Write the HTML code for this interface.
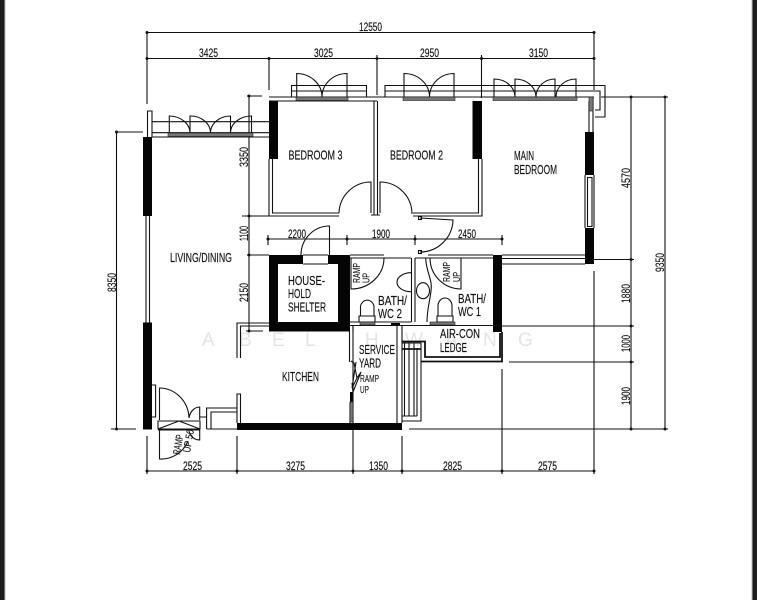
<!DOCTYPE html>
<html><head><meta charset="utf-8"><style>
html,body{margin:0;padding:0;background:#fff}
svg{display:block;filter:blur(.3px)}
text{font-family:"Liberation Sans",sans-serif;fill:#111}
.d{font-size:11.500px;stroke:#111;stroke-width:.15px}.l{font-size:13px;stroke:#111;stroke-width:.15px}.r{font-size:10.500px;stroke:#111;stroke-width:.1px}
.w{font-size:19px;fill:#e4e4e4}
</style></head><body>
<svg width="757" height="600" viewBox="0 0 757 600" xmlns="http://www.w3.org/2000/svg">
<rect width="757" height="600" fill="#fff"/>
<rect x="0" y="0" width="4.500" height="600" fill="#1c1c1c"/>
<rect x="4.500" y="0" width="1" height="600" fill="#bbb"/>
<rect x="752.500" y="0" width="4.500" height="600" fill="#1c1c1c"/>
<rect x="751.500" y="0" width="1" height="600" fill="#bbb"/>

<!-- watermark -->
<g class="w">
<text class="w" x="202" y="346">A</text><text class="w" x="239" y="346">B</text><text class="w" x="272" y="346">E</text><text class="w" x="305" y="346">L</text><text class="w" x="365" y="346">H</text><text class="w" x="405" y="346">W</text><text class="w" x="445" y="346">A</text><text class="w" x="483" y="346">N</text><text class="w" x="518" y="346">G</text>
</g>

<!-- dimension lines -->
<g stroke="#111" stroke-width="1.100" fill="none">
<path d="M147 32.500H594M147 58.500H594M147 32V104M269 58V90M377 55V95M481.500 55V98M594 32V90"/>
<path d="M147 471H594M147 436V474M237 436V474M353 430V474M402 436V474M502 369V474M594 271V474"/>
<path d="M116.500 132V429M116 132H143M111 429H136"/>
<path d="M249 96V331M247 96H262M242 216H269M247 255H269M246 331H263"/>
<path d="M631 97V429M665 97V429M601 97H668M594 259.500H634M502 326H634M509 362H634M409 429H668"/>
<path d="M268 239H502M268 235V245M347 235V245M415 235V245M502 235V245"/>
</g>
<g fill="#111">
<circle cx="147" cy="32.500" r="1.500"/><circle cx="594" cy="32.500" r="1.500"/>
<circle cx="147" cy="58.500" r="1.500"/><circle cx="269" cy="58.500" r="1.500"/><circle cx="377" cy="58.500" r="1.500"/><circle cx="481.500" cy="58.500" r="1.500"/><circle cx="594" cy="58.500" r="1.500"/>
<circle cx="147" cy="471" r="1.500"/><circle cx="237" cy="471" r="1.500"/><circle cx="353" cy="471" r="1.500"/><circle cx="402" cy="471" r="1.500"/><circle cx="502" cy="471" r="1.500"/><circle cx="594" cy="471" r="1.500"/>
<circle cx="116.500" cy="132" r="1.500"/><circle cx="116.500" cy="429" r="1.500"/>
<circle cx="249" cy="96" r="1.500"/><circle cx="249" cy="216" r="1.500"/><circle cx="249" cy="255" r="1.500"/><circle cx="249" cy="331" r="1.500"/>
<circle cx="631" cy="97" r="1.500"/><circle cx="631" cy="259.500" r="1.500"/><circle cx="631" cy="326" r="1.500"/><circle cx="631" cy="362" r="1.500"/><circle cx="631" cy="429" r="1.500"/>
<circle cx="665" cy="97" r="1.500"/><circle cx="665" cy="429" r="1.500"/>
<circle cx="268" cy="239" r="1.500"/><circle cx="347" cy="239" r="1.500"/><circle cx="415" cy="239" r="1.500"/><circle cx="502" cy="239" r="1.500"/>
</g>

<!-- black walls -->
<g fill="#050505">
<rect x="143" y="137" width="9" height="79"/>
<rect x="143" y="322.500" width="9" height="107"/>
<rect x="269" y="101" width="9" height="58"/>
<rect x="472.500" y="101" width="9.500" height="58"/>
<rect x="585" y="132" width="9" height="43"/>
<rect x="585" y="228" width="9" height="36"/>
<rect x="493" y="255" width="9" height="77"/>
<rect x="237" y="423" width="165" height="7"/>
<rect x="391" y="323" width="9" height="3"/>
<path fill-rule="evenodd" d="M269 255H303V264H328V255H350V331.500H269ZM278 264V322H338V264Z"/>
<rect x="350" y="392" width="3.500" height="10"/>
</g>

<!-- walls and thin lines -->
<g stroke="#111" stroke-width="1.100" fill="none">
<!-- living -->
<path d="M147.500 137V111H152V137M152 121.700H269M152 132.700H269M152 137H269"/>
<path d="M146 216V322.500M149.500 216V322.500"/>
<!-- bedroom tops -->
<path d="M269 97H594M269 101H377M269 159V216H339M272.500 159V213H339"/>
<path d="M374 101V215M377.500 101V215M371 215H380"/>
<path d="M413 213H478.500V159M413 216H482V159"/>
<path d="M291.500 97V85.500H366.500V97M291.500 91H366.500"/>
<path d="M385 97V85.500H605V117H595M385 91H600V110H595"/>
<path d="M589 101V132M593 97V132"/>
<rect x="587.500" y="177.500" width="4.500" height="49"/>
<path d="M585 175V228M594 175V228"/>
<!-- doors bedrooms -->
<path d="M339 213A32 32 0 0 1 371 182V213M380 213V182A32 32 0 0 1 412 214"/>
<path d="M420 218L453 220A33 33 0 0 1 420 252"/>
<rect x="418.500" y="216.500" width="3" height="3"/><rect x="418.500" y="250.500" width="3" height="3"/>
<!-- shelter door -->
<path d="M301 255A28.500 29 0 0 1 329.500 226V255M303 255H328M303 264H328"/>
<!-- top window leaves -->
<path d="M296.700 97V73.500A25.500 23.500 0 0 1 322 97A25 23.500 0 0 1 347 73.500V97"/>
<path d="M404 97V73.500A25.500 23.500 0 0 1 429.500 97A24.500 23.500 0 0 1 454 73.500V97"/>
<path d="M494 97V79A21 18 0 0 1 515 97V79A21 18 0 0 1 536 97A19 18 0 0 1 555 79V97M556 97A20 18 0 0 1 576 79V97"/>
<path d="M169.300 133V116A21 17 0 0 1 190 133V116A20 17 0 0 1 210.500 133A20 17 0 0 1 230.500 116V133A21 17 0 0 1 251.500 116V133"/>
<!-- main to bath wall -->
<path d="M502 255H585M502 258.500H585M502 264H585"/>
<!-- bath -->
<path d="M350 258H411M350 255H384M415 258H493M428 255H493M350 322H411M350 325.500H502"/>
<path d="M411.500 258V322M415 258V322"/>
<path d="M384 258A33 31 0 0 1 351 289V258M430 258A31 31 0 0 0 461 289V258"/>
<path d="M411 272.700A14 9.500 0 0 0 411 291.700"/>
<ellipse cx="423" cy="290.700" rx="6.500" ry="8"/>
<path d="M425.700 258C426 272 433 280 431 291C429.500 303 427 310 427 322"/>
<path d="M360.500 316V306A7 8 0 0 1 374 306V316M359 316H375V322H359Z"/>
<path d="M438 316V306A7 8 0 0 1 452 306V316M437 316H453V322H437Z"/>
<!-- kitchen -->
<path d="M237 358V323H269M240.500 358V326H269M237 423V394H240.500V423"/>
<path d="M349.500 331.500V362M353 331.500V325.500"/>
<path d="M350 402V423M353 402V423M353 325V423M397 325.500V423M402 325.500V423"/>
<path d="M351 361L354 363L357 378L352 388L356 362M357 378L361 372L353 392L352 383"/>
<!-- rack -->
<path d="M402 343H421V421H402M404.500 343V416M409 343V416M414 343V416M417 348V416M402 416H417"/>
<path d="M421 349H402M421 361.500H502V332M402 341.500H425V357H500V333" stroke-width="1.800"/>
<!-- entrance -->
<path d="M152 385H155.600V417H152M159.500 420V388A30 31 0 0 1 189 418A11 13 0 0 1 199.700 407V420"/>
<path d="M158 421H200V429H158ZM158 430H200M179 421L158 429M179 421L200 429"/>
<path d="M159.500 430V459A29 29 0 0 0 188 441M199.700 429V440A11 11 0 0 1 189 431"/>
<path d="M200 417H206.600V429M206.600 429V408H237M211 429V412H237M206.600 429H237"/>
</g>
<!-- grey window bands -->
<g fill="#777" stroke="#222" stroke-width=".6">
<rect x="168" y="133" width="85" height="3.500"/>
<rect x="296" y="97" width="52" height="3.500"/>
<rect x="403" y="97" width="52" height="3.500"/>
<rect x="493" y="97" width="84" height="3.500"/>
<rect x="589" y="97" width="4" height="14"/>
<rect x="360" y="322" width="15" height="3"/>
<rect x="430" y="322" width="25" height="3"/>
<rect x="350" y="402" width="3" height="20"/>
</g>

<!-- dimension text -->
<g class="d">
<text class="d" x="359" y="31" textLength="23" lengthAdjust="spacingAndGlyphs">12550</text>
<text class="d" x="199" y="57" textLength="19" lengthAdjust="spacingAndGlyphs">3425</text>
<text class="d" x="314" y="57" textLength="19" lengthAdjust="spacingAndGlyphs">3025</text>
<text class="d" x="420" y="57" textLength="19" lengthAdjust="spacingAndGlyphs">2950</text>
<text class="d" x="529" y="57" textLength="19" lengthAdjust="spacingAndGlyphs">3150</text>
<text class="d" x="288" y="238" textLength="18" lengthAdjust="spacingAndGlyphs">2200</text>
<text class="d" x="372" y="238" textLength="18" lengthAdjust="spacingAndGlyphs">1900</text>
<text class="d" x="458" y="238" textLength="18" lengthAdjust="spacingAndGlyphs">2450</text>
<text class="d" x="183" y="470" textLength="19" lengthAdjust="spacingAndGlyphs">2525</text>
<text class="d" x="286" y="470" textLength="19" lengthAdjust="spacingAndGlyphs">3275</text>
<text class="d" x="369" y="470" textLength="19" lengthAdjust="spacingAndGlyphs">1350</text>
<text class="d" x="443" y="470" textLength="19" lengthAdjust="spacingAndGlyphs">2825</text>
<text class="d" x="538" y="470" textLength="19" lengthAdjust="spacingAndGlyphs">2575</text>
<text class="d" transform="translate(248,167) rotate(-90)" textLength="20" lengthAdjust="spacingAndGlyphs">3350</text>
<text class="d" transform="translate(248,241) rotate(-90)" textLength="15" lengthAdjust="spacingAndGlyphs">1100</text>
<text class="d" transform="translate(248,302) rotate(-90)" textLength="19" lengthAdjust="spacingAndGlyphs">2150</text>
<text class="d" transform="translate(630,188) rotate(-90)" textLength="20" lengthAdjust="spacingAndGlyphs">4570</text>
<text class="d" transform="translate(664,272) rotate(-90)" textLength="19" lengthAdjust="spacingAndGlyphs">9350</text>
<text class="d" transform="translate(630,303) rotate(-90)" textLength="19" lengthAdjust="spacingAndGlyphs">1880</text>
<text class="d" transform="translate(630,352) rotate(-90)" textLength="17" lengthAdjust="spacingAndGlyphs">1000</text>
<text class="d" transform="translate(630,405) rotate(-90)" textLength="18" lengthAdjust="spacingAndGlyphs">1900</text>
<text class="d" transform="translate(116,292) rotate(-90)" textLength="19" lengthAdjust="spacingAndGlyphs">8350</text>
</g>

<!-- room labels -->
<g class="l">
<text class="l" x="288.500" y="159.500" textLength="54" lengthAdjust="spacingAndGlyphs">BEDROOM 3</text>
<text class="l" x="390" y="159.500" textLength="53" lengthAdjust="spacingAndGlyphs">BEDROOM 2</text>
<text class="l" x="514" y="160" textLength="20" lengthAdjust="spacingAndGlyphs">MAIN</text>
<text class="l" x="514" y="174" textLength="43" lengthAdjust="spacingAndGlyphs">BEDROOM</text>
<text class="l" x="170" y="262" textLength="62" lengthAdjust="spacingAndGlyphs">LIVING/DINING</text>
<text class="l" x="288" y="285" textLength="37" lengthAdjust="spacingAndGlyphs">HOUSE-</text>
<text class="l" x="288" y="298" textLength="23" lengthAdjust="spacingAndGlyphs">HOLD</text>
<text class="l" x="288" y="311.500" textLength="38" lengthAdjust="spacingAndGlyphs">SHELTER</text>
<text class="l" x="378" y="305" textLength="29" lengthAdjust="spacingAndGlyphs">BATH/</text>
<text class="l" x="378" y="318" textLength="24" lengthAdjust="spacingAndGlyphs">WC 2</text>
<text class="l" x="458" y="303" textLength="28" lengthAdjust="spacingAndGlyphs">BATH/</text>
<text class="l" x="458" y="316" textLength="23" lengthAdjust="spacingAndGlyphs">WC 1</text>
<text class="l" x="440" y="338" textLength="40" lengthAdjust="spacingAndGlyphs">AIR-CON</text>
<text class="l" x="440" y="352" textLength="27" lengthAdjust="spacingAndGlyphs">LEDGE</text>
<text class="l" x="359" y="354" textLength="36" lengthAdjust="spacingAndGlyphs">SERVICE</text>
<text class="l" x="359" y="367.500" textLength="22" lengthAdjust="spacingAndGlyphs">YARD</text>
<text class="l" x="282" y="381" textLength="37" lengthAdjust="spacingAndGlyphs">KITCHEN</text>
<text class="r" x="360" y="382" textLength="19" lengthAdjust="spacingAndGlyphs">RAMP</text>
<text class="r" x="360" y="393" textLength="9" lengthAdjust="spacingAndGlyphs">UP</text>
<text class="r" transform="translate(360,283) rotate(-90)" textLength="20" lengthAdjust="spacingAndGlyphs">RAMP</text>
<text class="r" transform="translate(369.500,283) rotate(-90)" textLength="10" lengthAdjust="spacingAndGlyphs">UP</text>
<text class="r" transform="translate(450,282) rotate(-90)" textLength="20" lengthAdjust="spacingAndGlyphs">RAMP</text>
<text class="r" transform="translate(460,282) rotate(-90)" textLength="10" lengthAdjust="spacingAndGlyphs">UP</text>
<text class="r" transform="translate(180,455) rotate(-80)" textLength="20" lengthAdjust="spacingAndGlyphs">RAMP</text>
<text class="r" transform="translate(190,453) rotate(-80)" textLength="23" lengthAdjust="spacingAndGlyphs">UP 50</text>
</g>
</svg>
</body></html>
